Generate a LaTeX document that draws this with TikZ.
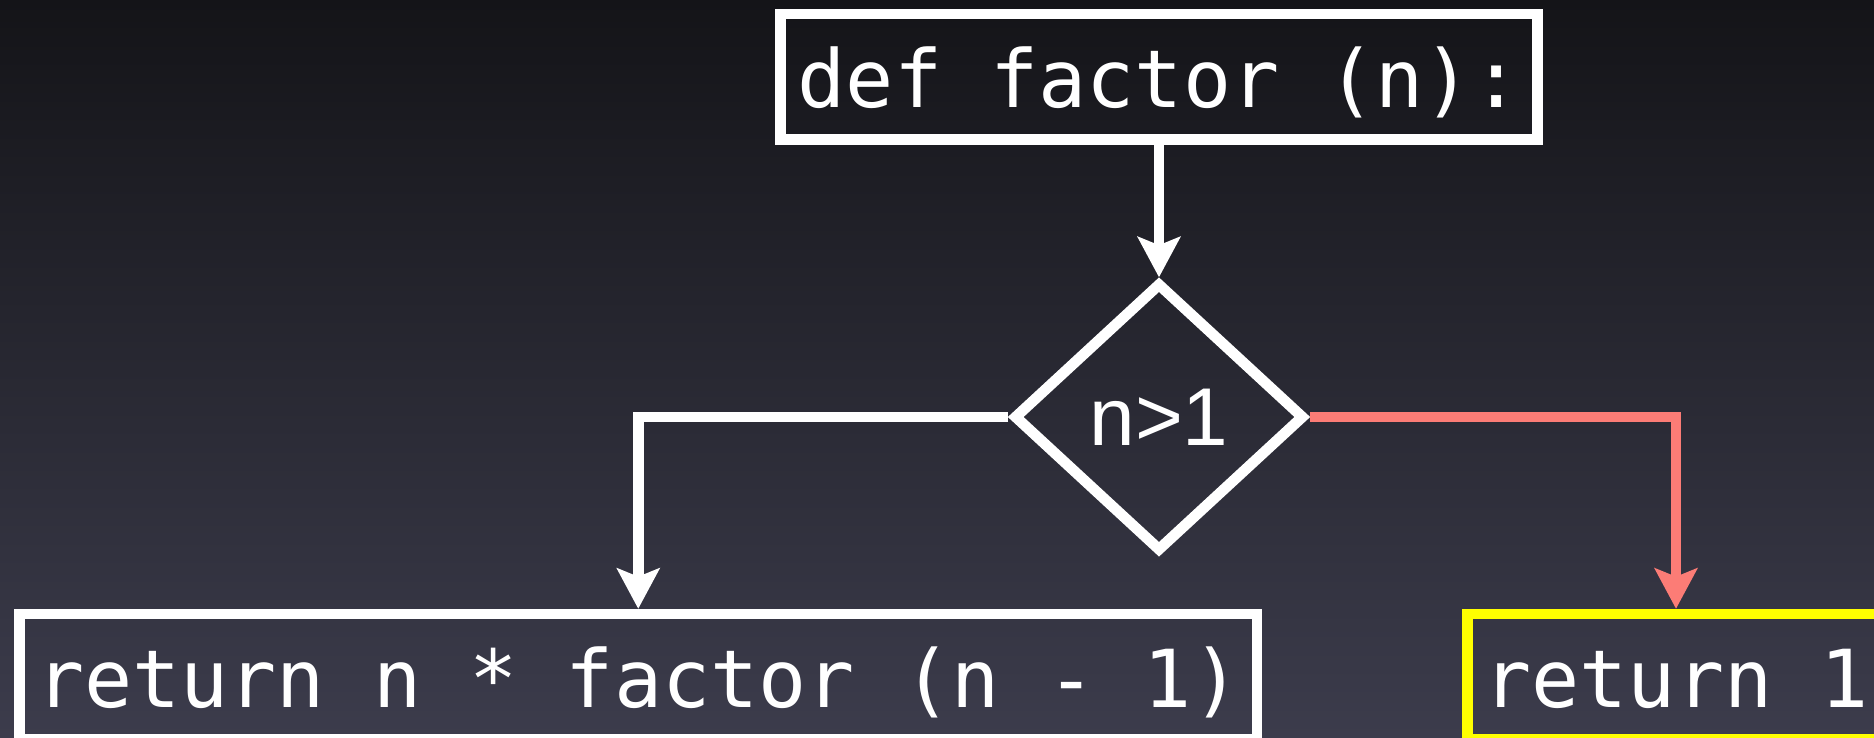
\documentclass[tikz,border=0pt]{standalone}
\usepackage{fontspec}
\setmonofont{DejaVu Sans Mono}
\newfontfamily\diafont{Liberation Sans}
\usetikzlibrary{shapes.geometric,arrows.meta}
\definecolor{bgtop}{RGB}{20,20,24}
\definecolor{bgbot}{RGB}{60,60,76}
\definecolor{salmon}{RGB}{252,124,118}
\definecolor{hiyellow}{RGB}{255,255,0}
\begin{document}
\begin{tikzpicture}[x=1pt,y=-1pt,
  codebox/.style={draw=white,line width=10.7pt,inner sep=0pt,minimum height=125.5pt,
    text height=62pt,text depth=0pt,text=white,font=\ttfamily\fontsize{80}{96}\selectfont},
  decision/.style={diamond,draw=white,line width=10.7pt,inner sep=0pt,
    minimum width=291pt,minimum height=269pt,text=white,font=\diafont\fontsize{82}{98}\selectfont},
  flow/.style={line width=10.7pt,-{Stealth[length=41pt,width=44pt,inset=9pt,line width=0pt]}},
]
\useasboundingbox (0,0) rectangle (1874,738);
\shade[top color=bgtop,bottom color=bgbot] (0,0) rectangle (1874,738);
\node[codebox,minimum width=757pt] (def) at (1159,76.75) {def factor (n):};
\node[decision] (cond) at (1159,417) {n>1};
\node[codebox,minimum width=1237.5pt] (rec) at (638.25,676.75) {return n * factor (n - 1)};
\node[codebox,draw=hiyellow,minimum width=417pt] (base) at (1676,676.75) {return 1};
\draw[flow,white] (def.south) -- (cond.north);
\draw[flow,white] (cond.west) -| (rec.north);
\draw[flow,salmon] (cond.east) -| (base.north);
\end{tikzpicture}
\end{document}
